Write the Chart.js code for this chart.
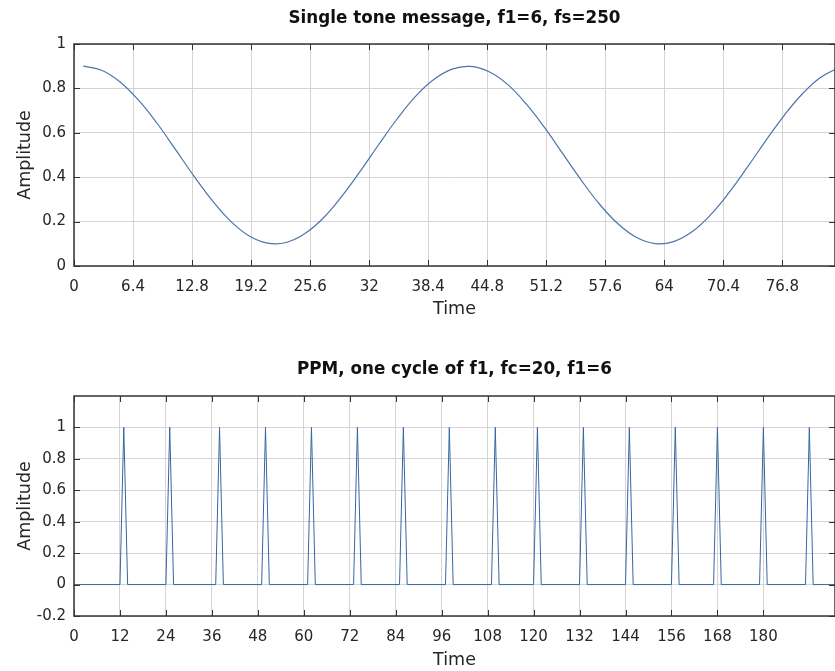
<!DOCTYPE html>
<html>
<head>
<meta charset="utf-8">
<title>Single tone message and PPM</title>
<script src="https://cdn.jsdelivr.net/npm/chart.js@4.4.1/dist/chart.umd.min.js"></script>
<style>
    body { margin: 0; background: #ffffff; }
    #wrap { position: relative; width: 835px; height: 671px; }
    canvas { position: absolute; left: 0; }
    #toneChart { top: 0; }
    #ppmChart { top: 330px; }
</style>
</head>
<body>
<div id="wrap">
    <canvas id="toneChart" width="835" height="330"></canvas>
    <canvas id="ppmChart" width="835" height="341"></canvas>
</div>
<script>
// values
// top plot: single tone message (time, amplitude), read every 2 time units
const toneTime = [1, 3, 5, 7, 9, 11, 13, 15, 17, 19, 21, 23, 25, 27, 29, 31, 33, 35, 37, 39, 41,
    43, 45, 47, 49, 51, 53, 55, 57, 59, 61, 63, 65, 67, 69, 71, 73, 75, 77, 79, 81, 83, 85];
const toneAmp = [0.900, 0.882, 0.829, 0.747, 0.643, 0.525, 0.405, 0.294, 0.201, 0.135, 0.103,
    0.106, 0.145, 0.215, 0.312, 0.425, 0.545, 0.661, 0.763, 0.840, 0.887,
    0.899, 0.875, 0.818, 0.731, 0.624, 0.505, 0.386, 0.277, 0.189, 0.128, 0.101,
    0.110, 0.154, 0.230, 0.330, 0.445, 0.565, 0.679, 0.777, 0.851, 0.892, 0.898];

// bottom plot: positions (time) of the PPM pulse peaks, each pulse is 0 -> 1 -> 0 over one sample
const pulsePeaks = [13, 25, 38, 50, 62, 74, 86, 98, 110, 121, 133, 145, 157, 168, 180, 192];
const pulseHeight = 1;
const pulseBase = 0;

// tick values
const toneXTicks = [0, 6.4, 12.8, 19.2, 25.6, 32, 38.4, 44.8, 51.2, 57.6, 64, 70.4, 76.8];
const toneYTicks = [0, 0.2, 0.4, 0.6, 0.8, 1];
const ppmXTicks = [0, 12, 24, 36, 48, 60, 72, 84, 96, 108, 120, 132, 144, 156, 168, 180];
const ppmYTicks = [-0.2, 0, 0.2, 0.4, 0.6, 0.8, 1];

// axis limits
const toneXMax = 82.5;
const ppmXMax = 198.7;

// shared look (matlab-ish)
const FONT = "'DejaVu Sans', sans-serif";
const TICK_COLOR = "#262626";
const GRID_COLOR = "#d4d4d4";

// build the pulse train from the peak list
const ppmPoints = [{x: 0, y: pulseBase}];
pulsePeaks.forEach(p => {
    ppmPoints.push({x: p - 1, y: pulseBase});
    ppmPoints.push({x: p, y: pulseHeight});
    ppmPoints.push({x: p + 1, y: pulseBase});
});
ppmPoints.push({x: ppmXMax, y: pulseBase});

const tonePoints = toneTime.map((t, i) => ({x: t, y: toneAmp[i]}));

// draws the axes box plus the small inward tick marks on all four sides
const matlabBox = {
    id: "matlabBox",
    afterDatasetsDraw(chart) {
        const {ctx, chartArea: a, scales: {x, y}} = chart;
        ctx.save();
        ctx.strokeStyle = "#333333";
        ctx.lineWidth = 1;
        ctx.beginPath();
        x.ticks.forEach(t => {
            const px = Math.round(x.getPixelForValue(t.value)) + 0.5;
            ctx.moveTo(px, a.bottom); ctx.lineTo(px, a.bottom - 6);
            ctx.moveTo(px, a.top); ctx.lineTo(px, a.top + 6);
        });
        y.ticks.forEach(t => {
            const py = Math.round(y.getPixelForValue(t.value)) + 0.5;
            ctx.moveTo(a.left, py); ctx.lineTo(a.left + 6, py);
            ctx.moveTo(a.right, py); ctx.lineTo(a.right - 6, py);
        });
        ctx.stroke();
        ctx.lineWidth = 1.5;
        ctx.strokeRect(a.left, a.top, a.right - a.left, a.bottom - a.top);
        ctx.restore();
    }
};

// one config builder for both subplots
function makeConfig(opts) {
    return {
        type: "line",
        data: {
            datasets: [{
                data: opts.points,
                borderColor: opts.color,
                borderWidth: opts.lineWidth,
                pointRadius: 0,
                fill: false,
                tension: opts.tension
            }]
        },
        options: {
            responsive: false,
            animation: false,
            events: [],
            layout: { padding: 0 },
            plugins: {
                legend: { display: false },
                tooltip: { enabled: false },
                title: {
                    display: true,
                    text: opts.title,
                    fullSize: false,
                    color: "#111111",
                    font: { family: FONT, size: 16.75, weight: "bold" },
                    padding: opts.titlePadding
                }
            },
            scales: {
                x: {
                    type: "linear",
                    min: 0,
                    max: opts.xMax,
                    afterBuildTicks: s => { s.ticks = opts.xTicks.map(v => ({value: v})); },
                    afterFit: s => { s.height = opts.xAxisHeight; },
                    grid: { color: GRID_COLOR, lineWidth: 1, drawTicks: false },
                    border: { display: false },
                    ticks: {
                        autoSkip: false,
                        maxRotation: 0,
                        padding: 12,
                        color: TICK_COLOR,
                        font: { family: FONT, size: 15 },
                        callback: v => String(v)
                    },
                    title: {
                        display: true,
                        text: "Time",
                        color: TICK_COLOR,
                        font: { family: FONT, size: 17.5 },
                        padding: { top: 0, bottom: opts.xTitleBottom }
                    }
                },
                y: {
                    type: "linear",
                    min: opts.yMin,
                    max: opts.yMax,
                    afterBuildTicks: s => { s.ticks = opts.yTicks.map(v => ({value: v})); },
                    afterFit: s => { s.width = 74; },
                    grid: { color: GRID_COLOR, lineWidth: 1, drawTicks: false },
                    border: { display: false },
                    ticks: {
                        padding: 8,
                        color: TICK_COLOR,
                        font: { family: FONT, size: 15 },
                        callback: v => String(v)
                    },
                    title: {
                        display: true,
                        text: "Amplitude",
                        color: TICK_COLOR,
                        font: { family: FONT, size: 17.5 },
                        padding: { top: 15, bottom: 0 }
                    }
                }
            }
        },
        plugins: [matlabBox]
    };
}

// top: single tone message
new Chart(document.getElementById("toneChart").getContext("2d"), makeConfig({
    points: tonePoints,
    color: "#4f74a8",
    lineWidth: 1.2,
    tension: 0.4,
    title: "Single tone message, f1=6, fs=250",
    titlePadding: { top: 8.5, bottom: 15.4 },
    xMax: toneXMax,
    xTicks: toneXTicks,
    yMin: 0,
    yMax: 1,
    yTicks: toneYTicks,
    xAxisHeight: 64,
    xTitleBottom: 10.5
}));

// bottom: PPM pulse train
new Chart(document.getElementById("ppmChart").getContext("2d"), makeConfig({
    points: ppmPoints,
    color: "#3567a0",
    lineWidth: 1,
    tension: 0,
    title: "PPM, one cycle of f1, fc=20, f1=6",
    titlePadding: { top: 30, bottom: 15.9 },
    xMax: ppmXMax,
    xTicks: ppmXTicks,
    yMin: -0.2,
    yMax: 1.2,
    yTicks: ppmYTicks,
    xAxisHeight: 55,
    xTitleBottom: 0.5
}));
</script>
</body>
</html>
